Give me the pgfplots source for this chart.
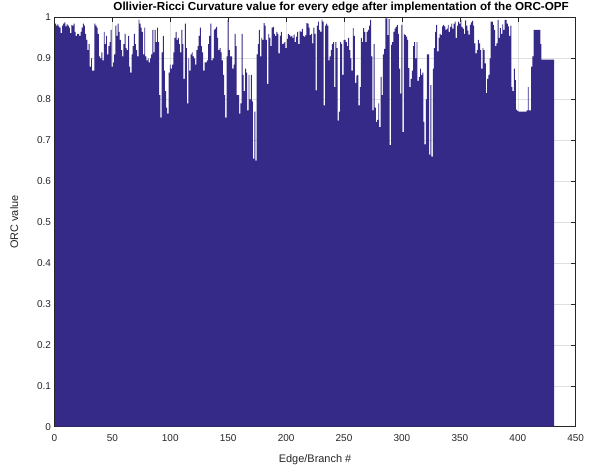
\documentclass[border=0pt]{standalone}
\usepackage{fontspec}
\setmainfont{Liberation Sans}
\usepackage{pgfplots}
\pgfplotsset{compat=1.18}
\definecolor{barblue}{RGB}{53,42,135}
\definecolor{axgray}{RGB}{38,38,38}
\definecolor{gridgray}{RGB}{223,223,223}
\begin{document}
\begin{tikzpicture}[x=1bp,y=1bp]
\useasboundingbox (0,0) rectangle (599,470);
\begin{axis}[
  at={(54.4bp,43.3bp)}, anchor=south west,
  scale only axis, width=521.3bp, height=409.2bp,
  xmin=0, xmax=450, ymin=0, ymax=1,
  xtick={0,50,...,450}, ytick={0,0.1,...,1},
  yticklabels={0,0.1,0.2,0.3,0.4,0.5,0.6,0.7,0.8,0.9,1},
  /pgf/number format/assume math mode=true,
  tick align=inside, tick pos=both, major tick length=5bp,
  axis line style={axgray, line width=0.5pt},
  every tick/.style={axgray, line width=0.5pt},
  grid=major, major grid style={gridgray, line width=0.5pt},
  ticklabel style={font=\fontsize{10}{12}\selectfont, text=axgray},
  xticklabel style={yshift=-4bp},
  label style={font=\fontsize{11}{13}\selectfont, text=axgray},
  title style={font=\fontsize{11.7}{14}\selectfont\bfseries, at={(0.55,1)}, yshift=-5bp},
  title={Ollivier-Ricci Curvature value for every edge after implementation of the ORC-OPF},
  xlabel={Edge/Branch \#}, ylabel={ORC value},
  xlabel style={yshift=-6bp}, ylabel style={yshift=12bp},
]
\addplot[ybar, bar width=0.8, fill=barblue, draw=none] coordinates {
(1,0.985)(2,0.98)(3,0.983)(4,0.978)(5,0.975)(6,0.962)(7,0.98)(8,0.985)(9,0.988)(10,0.978)
(11,0.983)(12,0.98)(13,0.975)(14,0.962)(15,0.982)(16,0.98)(17,0.985)(18,0.965)(19,0.955)(20,0.96)
(21,0.96)(22,0.955)(23,0.965)(24,0.975)(25,0.985)(26,0.98)(27,0.96)(28,0.945)(29,0.92)(30,0.935)
(31,0.88)(32,0.9)(33,0.87)(34,0.87)(35,0.985)(36,0.98)(37,0.975)(38,0.96)(39,0.905)(40,0.9)
(41,0.915)(42,0.895)(43,0.965)(44,0.935)(45,0.955)(46,0.91)(47,0.93)(48,0.94)(49,0.97)(50,0.88)
(51,0.89)(52,0.91)(53,0.98)(54,0.955)(55,0.985)(56,0.965)(57,0.945)(58,0.92)(59,0.905)(60,0.935)
(61,0.96)(62,0.925)(63,0.92)(64,0.955)(65,0.88)(66,0.865)(67,0.91)(68,0.93)(69,0.96)(70,0.935)
(71,0.92)(72,0.905)(73,0.995)(74,0.985)(75,0.975)(76,0.965)(77,0.91)(78,0.975)(79,0.905)(80,0.895)
(81,0.9)(82,0.89)(83,0.9)(84,0.91)(85,0.97)(86,0.915)(87,0.97)(88,0.94)(89,0.975)(90,0.94)
(91,0.81)(92,0.755)(93,0.915)(94,0.955)(95,0.87)(96,0.82)(97,0.78)(98,0.765)(99,0.865)(100,0.885)
(101,0.875)(102,0.885)(103,0.915)(104,0.95)(105,0.965)(106,0.945)(107,0.95)(108,0.935)(109,0.915)(110,0.97)
(111,0.935)(112,0.85)(113,0.985)(114,0.925)(115,0.79)(116,0.9)(117,0.87)(118,0.91)(119,0.915)(120,0.905)
(121,0.9)(122,0.885)(123,0.92)(124,0.93)(125,0.955)(126,0.975)(127,0.93)(128,0.915)(129,0.87)(130,0.89)
(131,0.89)(132,0.895)(133,0.935)(134,0.955)(135,0.985)(136,0.895)(137,0.9)(138,0.97)(139,0.973)(140,0.977)
(141,0.95)(142,0.92)(143,0.925)(144,0.915)(145,0.895)(146,0.86)(147,0.81)(148,0.755)(149,0.905)(150,0.994)
(151,0.92)(152,0.905)(153,0.905)(154,0.875)(155,0.885)(156,0.96)(157,0.93)(158,0.81)(159,0.81)(160,0.765)
(161,0.79)(162,0.96)(163,0.86)(164,0.82)(165,0.875)(166,0.865)(167,0.773)(168,0.86)(169,0.8)(170,0.86)
(171,0.795)(172,0.655)(173,0.77)(174,0.65)(175,0.91)(176,0.935)(177,0.97)(178,0.905)(179,0.95)(180,0.945)
(181,0.986)(182,0.98)(183,0.945)(184,0.838)(185,0.96)(186,0.95)(187,0.93)(188,0.975)(189,0.977)(190,0.96)
(191,0.955)(192,0.965)(193,0.96)(194,0.912)(195,0.955)(196,0.965)(197,0.935)(198,0.937)(199,0.94)(200,0.925)
(201,0.948)(202,0.96)(203,0.957)(204,0.953)(205,0.955)(206,0.95)(207,0.958)(208,0.94)(209,0.953)(210,0.965)
(211,0.935)(212,0.968)(213,0.965)(214,0.972)(215,0.955)(216,0.953)(217,0.957)(218,0.986)(219,0.985)(220,0.975)
(221,0.957)(222,0.96)(223,0.937)(224,0.975)(225,0.96)(226,0.822)(227,0.98)(228,0.99)(229,0.97)(230,0.965)
(231,0.995)(232,0.99)(233,0.785)(234,0.98)(235,0.985)(236,0.98)(237,0.895)(238,0.905)(239,0.92)(240,0.935)
(241,0.94)(242,0.83)(243,0.94)(244,0.925)(245,0.748)(246,0.77)(247,0.94)(248,0.935)(249,0.86)(250,0.945)
(251,0.945)(252,0.94)(253,0.93)(254,0.95)(255,0.92)(256,0.9)(257,0.87)(258,0.974)(259,0.955)(260,0.84)
(261,0.858)(262,0.86)(263,0.785)(264,0.83)(265,0.95)(266,0.94)(267,0.974)(268,0.965)(269,0.94)(270,0.965)
(271,0.97)(272,0.98)(273,0.994)(274,0.905)(275,0.773)(276,0.935)(277,0.78)(278,0.745)(279,0.75)(280,0.79)
(281,0.732)(282,0.855)(283,0.81)(284,0.91)(285,0.923)(286,0.998)(287,0.998)(288,0.957)(289,0.996)(290,0.688)
(291,0.933)(292,0.94)(293,0.965)(294,0.973)(295,0.977)(296,0.982)(297,0.96)(298,0.875)(299,0.814)(300,0.982)
(301,0.72)(302,0.96)(303,0.957)(304,0.953)(305,0.945)(306,0.876)(307,0.83)(308,0.85)(309,0.87)(310,0.93)
(311,0.94)(312,0.9)(313,0.94)(314,0.845)(315,0.855)(316,0.875)(317,0.86)(318,0.865)(319,0.745)(320,0.69)
(321,0.8)(322,0.91)(323,0.91)(324,0.665)(325,0.835)(326,0.66)(327,0.875)(328,0.925)(329,0.965)(330,0.982)
(331,0.917)(332,0.95)(333,0.96)(334,0.957)(335,0.978)(336,0.982)(337,0.978)(338,0.97)(339,0.973)(340,0.982)
(341,0.965)(342,0.977)(343,0.985)(344,0.973)(345,0.985)(346,0.99)(347,0.95)(348,0.98)(349,0.99)(350,0.985)
(351,0.994)(352,0.977)(353,0.973)(354,0.96)(355,0.993)(356,0.98)(357,0.968)(358,0.958)(359,0.982)(360,0.988)
(361,0.992)(362,0.98)(363,0.937)(364,0.912)(365,0.92)(366,0.945)(367,0.937)(368,0.92)(369,0.875)(370,0.925)
(371,0.92)(372,0.888)(373,0.815)(374,0.85)(375,0.86)(376,0.9)(377,0.99)(378,0.99)(379,0.982)(380,0.97)
(381,0.93)(382,0.937)(383,0.994)(384,0.95)(385,0.974)(386,0.96)(387,0.983)(388,0.97)(389,0.994)(390,0.994)
(391,0.985)(392,0.978)(393,0.955)(394,0.98)(395,0.83)(396,0.82)(397,0.875)(398,0.847)(399,0.775)(400,0.772)
(401,0.77)(402,0.77)(403,0.77)(404,0.77)(405,0.77)(406,0.77)(407,0.77)(408,0.773)(409,0.83)(410,0.773)
(411,0.773)(412,0.88)(413,0.905)(414,0.97)(415,0.97)(416,0.97)(417,0.97)(418,0.97)(419,0.97)(420,0.935)
(421,0.897)(422,0.897)(423,0.897)(424,0.897)(425,0.897)(426,0.897)(427,0.897)(428,0.897)(429,0.897)(430,0.897)
(431,0.897)
};
\end{axis}
\end{tikzpicture}
\end{document}
